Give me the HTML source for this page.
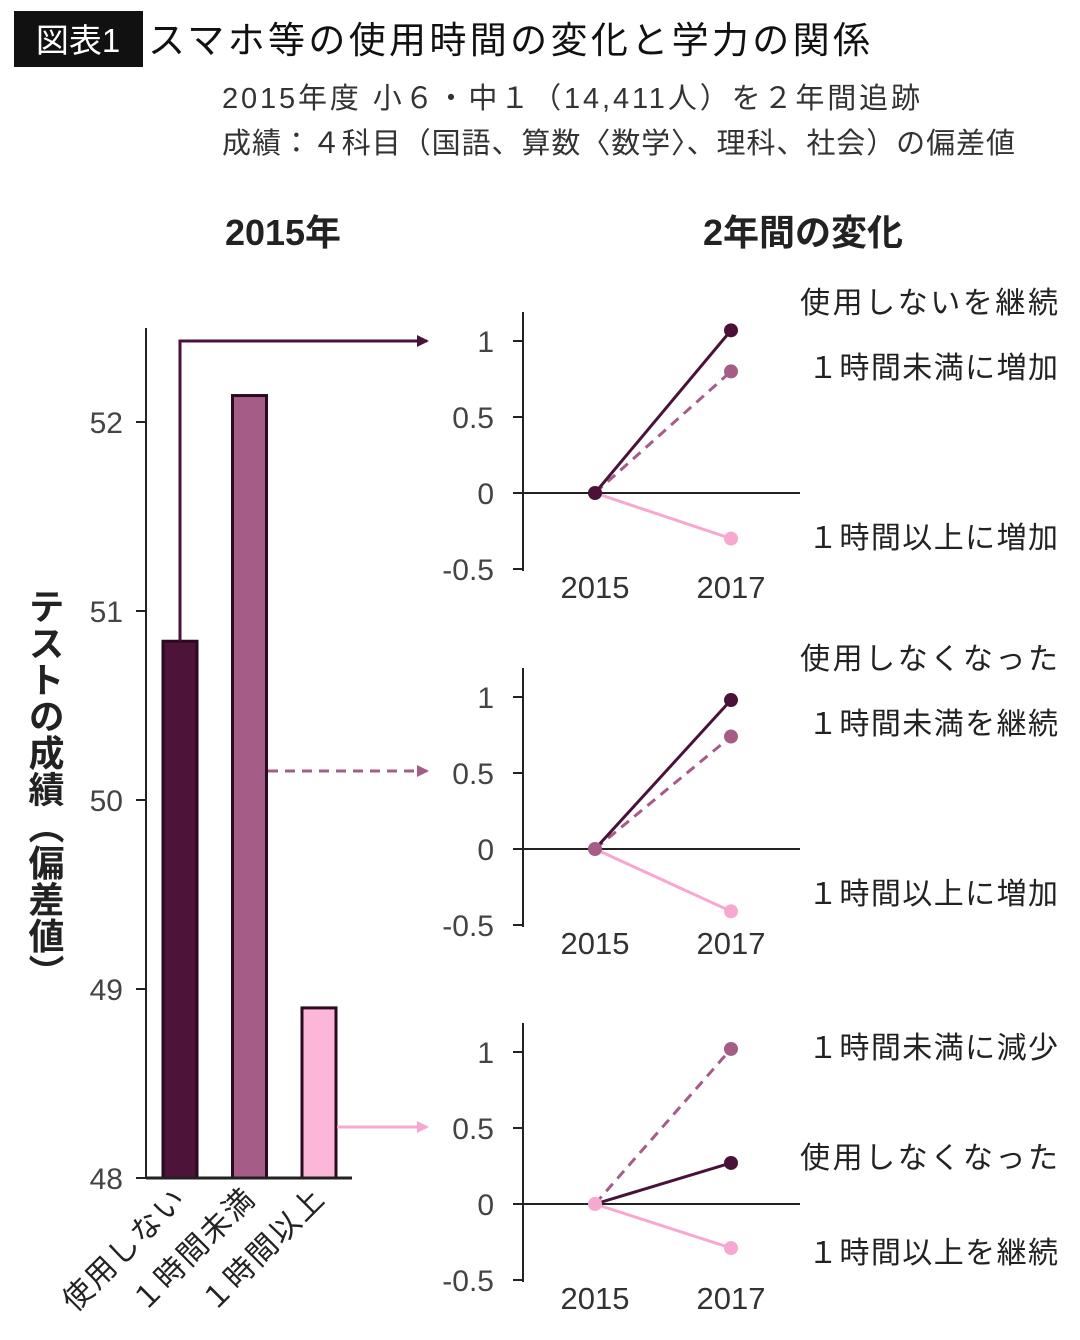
<!DOCTYPE html>
<html><head><meta charset="utf-8">
<style>
html,body{margin:0;padding:0;background:#fff;}
svg{display:block;font-family:"Liberation Sans","Noto Sans CJK JP",sans-serif;}
</style></head>
<body>
<svg id="chart" width="1080" height="1340" viewBox="0 0 1080 1340" xmlns="http://www.w3.org/2000/svg">
<rect x="14" y="11" width="129" height="56" fill="#111"/>
<text x="78" y="52" font-size="33" fill="#fff" text-anchor="middle">図表1</text>
<text x="148" y="53" font-size="37" fill="#111" textLength="722" lengthAdjust="spacing">スマホ等の使用時間の変化と学力の関係</text>
<text x="222" y="108" font-size="29" fill="#333" textLength="698" lengthAdjust="spacing">2015年度 小６・中１（14,411人）を２年間追跡</text>
<text x="222" y="153" font-size="29" fill="#333" textLength="793" lengthAdjust="spacing">成績：４科目（国語、算数〈数学〉、理科、社会）の偏差値</text>
<text x="283" y="245" font-size="36" font-weight="bold" fill="#222" text-anchor="middle">2015年</text>
<text x="803" y="245" font-size="36" font-weight="bold" fill="#222" text-anchor="middle">2年間の変化</text>
<text x="0" y="0" font-size="36" font-weight="bold" fill="#222" transform="translate(44,588)" style="writing-mode:tb" textLength="402" lengthAdjust="spacing">テストの成績（偏差値）</text>
<g id="bars"></g>
<g id="panels"></g>
<defs>
<marker id="ah1" markerWidth="12" markerHeight="12" refX="10" refY="6" orient="auto" markerUnits="userSpaceOnUse"><path d="M0,0 L12,6 L0,12z" fill="#4a1238"/></marker>
<marker id="ah2" markerWidth="12" markerHeight="12" refX="10" refY="6" orient="auto" markerUnits="userSpaceOnUse"><path d="M0,0 L12,6 L0,12z" fill="#a55d87"/></marker>
<marker id="ah3" markerWidth="12" markerHeight="12" refX="10" refY="6" orient="auto" markerUnits="userSpaceOnUse"><path d="M0,0 L12,6 L0,12z" fill="#f7a8d0"/></marker>
</defs>
</svg>
<script>
const NS="http://www.w3.org/2000/svg";
const barCategories=["使用しない","１時間未満","１時間以上"];
const barValues=[50.84,52.14,48.9];
const barTicks=[48,49,50,51,52];
const panelYears=["2015","2017"];
const panelTicks=[1,0.5,0,-0.5];
const panel1Values=[1.07,0.80,-0.30];
const panel2Values=[0.98,0.74,-0.41];
const panel3Values=[0.27,1.02,-0.29];
const panel1Labels=["使用しないを継続","１時間未満に増加","１時間以上に増加"];
const panel2Labels=["使用しなくなった","１時間未満を継続","１時間以上に増加"];
const panel3Labels=["１時間未満に減少","使用しなくなった","１時間以上を継続"];

const colors=["#4a1238","#a55d87","#f7a8d0"];
const barFill=["#4e1339","#a55d87","#fbb6d8"];
const svg=document.getElementById('chart');
function mk(tag,attrs,parent,text){const e=document.createElementNS(NS,tag);for(const k in attrs)e.setAttribute(k,attrs[k]);if(text!==undefined)e.textContent=text;(parent||svg).appendChild(e);return e;}

const by=v=>1178-(v-48)*189;
const bx=i=>180+i*69.5;
const bg=document.getElementById('bars');
let e=mk('line',{x1:146,y1:328,x2:146,y2:1178,stroke:'#222','stroke-width':2},bg);


barTicks.forEach(t=>{
  let l=mk('line',{x1:136,y1:by(t),x2:146,y2:by(t),stroke:'#222','stroke-width':2},bg);
  
  
  let tx=mk('text',{x:123,y:by(t)+11,'font-size':30,fill:'#444','text-anchor':'end'},bg,String(t));
  
  
});
barValues.forEach((v,i)=>{
  let r=mk('rect',{x:bx(i)-17,y:by(v),width:34,height:by(48)-by(v),fill:barFill[i],stroke:'#2a0a1f','stroke-width':3},bg);
  
  
  let t=mk('text',{x:0,y:0,'font-size':30,fill:'#222','text-anchor':'end','letter-spacing':'2',transform:`translate(${bx(i)+8},${1200}) rotate(-45)`},bg,barCategories[i]);
  
  
});
e=mk('line',{x1:146,y1:1178,x2:352,y2:1178,stroke:'#222','stroke-width':3},bg);



const zeros=[493,849,1204];
const unit=152;
e=mk('path',{d:`M${bx(0)},${by(barValues[0])} V341 H427`,fill:'none',stroke:colors[0],'stroke-width':3,'marker-end':'url(#ah1)'},bg);


e=mk('path',{d:`M268,771 H427`,fill:'none',stroke:colors[1],'stroke-width':3,'stroke-dasharray':'10,7','marker-end':'url(#ah2)'},bg);


e=mk('path',{d:`M337,1127 H427`,fill:'none',stroke:colors[2],'stroke-width':3,'marker-end':'url(#ah3)'},bg);



const pg=document.getElementById('panels');
const panelVals=[panel1Values,panel2Values,panel3Values];
const panelLabs=[panel1Labels,panel2Labels,panel3Labels];
const px=i=>595+i*136;
panelVals.forEach((vals,p)=>{
  const z=zeros[p];
  const py=v=>z-v*unit;
  const g=mk('g',{},pg);
  
  
  let a=mk('line',{x1:523,y1:z-181,x2:523,y2:z+78,stroke:'#222','stroke-width':2},g);
  
  
  a=mk('line',{x1:523,y1:z,x2:800,y2:z,stroke:'#222','stroke-width':2},g);
  
  
  panelTicks.forEach(t=>{
    let l=mk('line',{x1:513,y1:py(t),x2:523,y2:py(t),stroke:'#222','stroke-width':2},g);
    
    
    let tx=mk('text',{x:494,y:py(t)+11,'font-size':30,fill:'#444','text-anchor':'end'},g,String(t));
    
    
  });
  panelYears.forEach((y,i)=>{
    let tx=mk('text',{x:px(i),y:z+105,'font-size':31,fill:'#333','text-anchor':'middle'},g,y);
    
    
  });
  [2,1,0].forEach(s=>{
    let l=mk('line',{x1:px(0),y1:py(0),x2:px(1),y2:py(vals[s]),stroke:colors[s],'stroke-width':3},g);
    if(s===1)l.setAttribute('stroke-dasharray','10,7');
    
    
    let c=mk('circle',{cx:px(1),cy:py(vals[s]),r:7,fill:colors[s]},g);
    
    
  });
  let c0=mk('circle',{cx:px(0),cy:py(0),r:7,fill:p===2?colors[2]:(p===1?colors[1]:colors[0])},g);
  
  
  const slots=p===2?[z-146,z-36,z+59]:[z-180,z-115,z+55];
  panelLabs[p].forEach((lab,k)=>{
    const starts1=lab.charAt(0)==='１';
    let tx=mk('text',{x:starts1?808:800,y:slots[k],'font-size':30,fill:'#222',textLength:starts1?250:258,lengthAdjust:'spacing'},g,lab);
    
    
  });
});
</script>
</body></html>
